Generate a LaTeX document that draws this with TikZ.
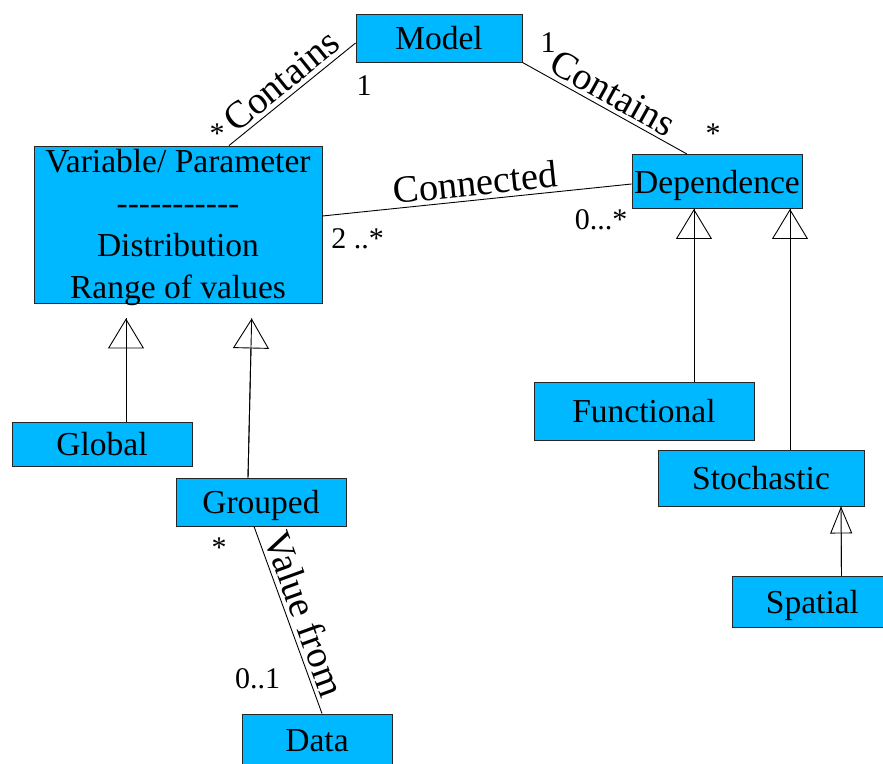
\documentclass[tikz,border=0pt]{standalone}
\usepackage{fontspec}
\setmainfont{Liberation Serif}
\usetikzlibrary{arrows.meta}
\definecolor{sky}{RGB}{0,184,255}
\newcommand\hy{-\kern0pt}
\tikzset{
  box/.style={draw=black!85, fill=sky, line width=0.9pt, inner sep=0pt,
    font=\fontsize{33.5}{42}\selectfont, align=center},
  one/.style={text height=23pt, text depth=0pt},
  conn/.style={line width=0.9pt},
  lab/.style={font=\fontsize{38.5}{46}\selectfont, sloped, above=4pt, inner sep=0pt, pos=0.5},
  mult/.style={font=\fontsize{30}{36}\selectfont, inner sep=0pt, anchor=base},
  gen/.style={line width=0.9pt, -{Triangle[open, length=30pt, width=36pt, line width=0.9pt]}, postaction={draw, arrows=-}},
  gensmall/.style={line width=0.9pt, -{Triangle[open, length=27pt, width=22pt, line width=0.9pt]}, postaction={draw, arrows=-}}
}
\begin{document}
\begin{tikzpicture}[x=1pt, y=-1pt]
\path[use as bounding box] (0,0) rectangle (883,763);
\clip (0,0) rectangle (883,763);
\node[box, one, minimum width=166pt, minimum height=48pt] (model) at (439,38) {Model};
\node[box, text depth=1pt, minimum width=288pt, minimum height=157pt] (var) at (178,224.5)
  {Variable/ Parameter\\ \hy\hy\hy\hy\hy\hy\hy\hy\hy\hy-\\ Distribution\\ Range of values};
\node[box, one, minimum width=170pt, minimum height=54pt] (dep) at (717,181.5) {Dependence};
\node[box, one, minimum width=180pt, minimum height=44pt] (global) at (102,444) {Global};
\node[box, one, minimum width=170pt, minimum height=48pt] (grouped) at (261,502) {Grouped};
\node[box, one, minimum width=150pt, minimum height=52pt] (data) at (317,740) {Data};
\node[box, one, minimum width=220pt, minimum height=58pt] (func) at (644,411) {Functional};
\node[box, one, minimum width=206pt, minimum height=56pt] (stoch) at (761,478) {Stochastic};
\node[box, one, minimum width=161pt, minimum height=51pt] (spatial) at (812.5,601.5) {Spatial};

% associations
\draw[conn] ([xshift=51pt]var.north) -- ([yshift=-5pt]model.west) node[lab] (labc1) {Contains};
\draw[conn] (model.south east) -- ([xshift=-30pt]dep.north) node[lab] (labc2) {Contains};
\draw[conn] ([yshift=8.5pt]var.east) -- ([yshift=-2.5pt]dep.west) node[lab] (labcon) {Connected};
\draw[conn] ([xshift=-7pt]grouped.south) -- ([xshift=5pt]data.north) node[lab] (labval) {Value from};

% generalizations
\draw[gen, shorten >=15pt] ([xshift=24pt]global.north) -- ([xshift=-52pt]var.south);
\draw[gen, shorten >=15pt] ([xshift=-13pt]grouped.north) -- ([xshift=74pt]var.south);
\draw[gen] ([xshift=50pt]func.north) -- ([xshift=-23pt]dep.south);
\draw[gen] ([xshift=29pt]stoch.north) -- ([xshift=73pt]dep.south);
\draw[gensmall] ([xshift=29pt]spatial.north) -- ([xshift=80pt]stoch.south);

% multiplicities
\node[mult] (m1) at (217,143) {*};
\node[mult] (m2) at (364,95) {1};
\node[mult] (m3) at (548,52) {1};
\node[mult] (m4) at (713,143) {*};
\node[mult] (m5) at (357.5,248) {2 ..*};
\node[mult] (m6) at (601,229) {0...*};
\node[mult] (m7) at (219,557) {*};
\node[mult] (m8) at (257.5,688) {0..1};
\end{tikzpicture}
\end{document}
